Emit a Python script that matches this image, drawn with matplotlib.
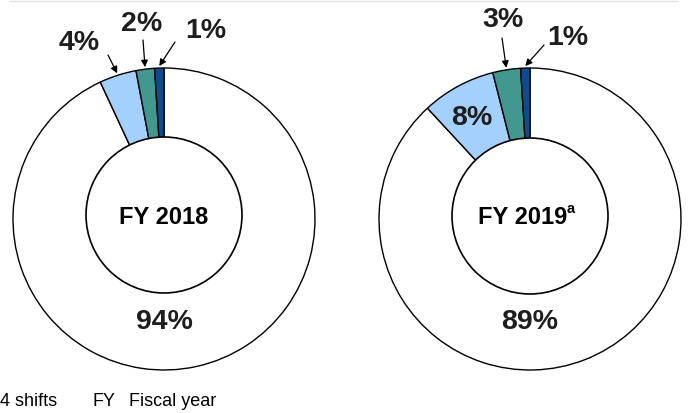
import numpy as np
import matplotlib.pyplot as plt
from matplotlib.patches import Circle

plt.rcParams['font.family'] = ['Liberation Sans', 'DejaVu Sans']

W, H = 688, 413

# shares, white first then clockwise back to the top
fy2018 = [94, 4, 2, 1]
fy2019 = [89, 8, 3, 1]
labels_2018 = ['94%', '4%', '2%', '1%']
labels_2019 = ['89%', '8%', '3%', '1%']
colors = ['white', '#a3d0fd', '#41988e', '#0d4c92']

def Y(y):
    return H - y

fig = plt.figure(figsize=(W / 100, H / 100), dpi=100)
ax = fig.add_axes([0, 0, 1, 1])

def donut(vals, cx, cy, r_out=151, r_in=78, cy_in=None):
    wedges, _ = ax.pie(vals, colors=colors, startangle=90, counterclock=False,
                       center=(cx, Y(cy)), radius=r_out,
                       wedgeprops=dict(edgecolor='black', linewidth=1.0))
    ax.add_patch(Circle((cx, Y(cy_in if cy_in else cy)), r_in, facecolor='white',
                        edgecolor='black', linewidth=1.2, zorder=5))
    return wedges

def tip(w, cx, cy, r=153):
    a = np.deg2rad((w.theta1 + w.theta2) / 2)
    return (cx + r * np.cos(a), Y(cy) + r * np.sin(a))

pct = dict(fontsize=20.5, fontweight='bold', color='#1e1e1e', ha='center', va='center')
arrow = dict(arrowstyle='-|>', color='black', lw=0.9, mutation_scale=10, shrinkA=0, shrinkB=0)

# FY 2018
cxL, cyL = 164, 219
wL = donut(fy2018, cxL, cyL, cy_in=215)
ax.text(cxL, Y(218), 'FY 2018', fontsize=17, fontweight='bold', ha='center', va='center', zorder=6)
ax.text(cxL, Y(322), labels_2018[0], zorder=6, **pct)
for i, (tx, ty, sx, sy) in zip([1, 2, 3], [(79, 43, 108, 55), (142, 24, 143, 40), (206, 31, 175, 42)]):
    ax.text(tx, Y(ty), labels_2018[i], **pct)
    ax.annotate('', xy=tip(wL[i], cxL, cyL), xytext=(sx, Y(sy)), arrowprops=arrow)

# FY 2019
cxR, cyR = 530, 219
wR = donut(fy2019, cxR, cyR, cy_in=216)
ax.text(cxR - 7, Y(218), 'FY 2019', fontsize=17, fontweight='bold', ha='center', va='center', zorder=6)
ax.text(cxR + 37, Y(209), 'a', fontsize=10.5, fontweight='bold', ha='left', va='center', zorder=6)
ax.text(cxR, Y(322), labels_2019[0], zorder=6, **pct)
ax.text(472, Y(118), labels_2019[1], zorder=6, **pct)
for i, (tx, ty, sx, sy) in zip([2, 3], [(503, 20, 502, 38), (568, 38, 544, 45)]):
    ax.text(tx, Y(ty), labels_2019[i], **pct)
    ax.annotate('', xy=tip(wR[i], cxR, cyR), xytext=(sx, Y(sy)), arrowprops=arrow)

# footer
ax.text(0, Y(402), '4 shifts', fontsize=13, ha='left', va='center')
ax.text(92, Y(402), 'FY', fontsize=13, ha='left', va='center')
ax.text(129, Y(402), 'Fiscal year', fontsize=13, ha='left', va='center')
ax.plot([10, 677], [Y(0.5), Y(0.5)], color='#e4e4e4', lw=1)

ax.set_xlim(0, W)
ax.set_ylim(0, H)
ax.set_aspect('auto')
ax.axis('off')

fig.savefig('out.png', dpi=100)
